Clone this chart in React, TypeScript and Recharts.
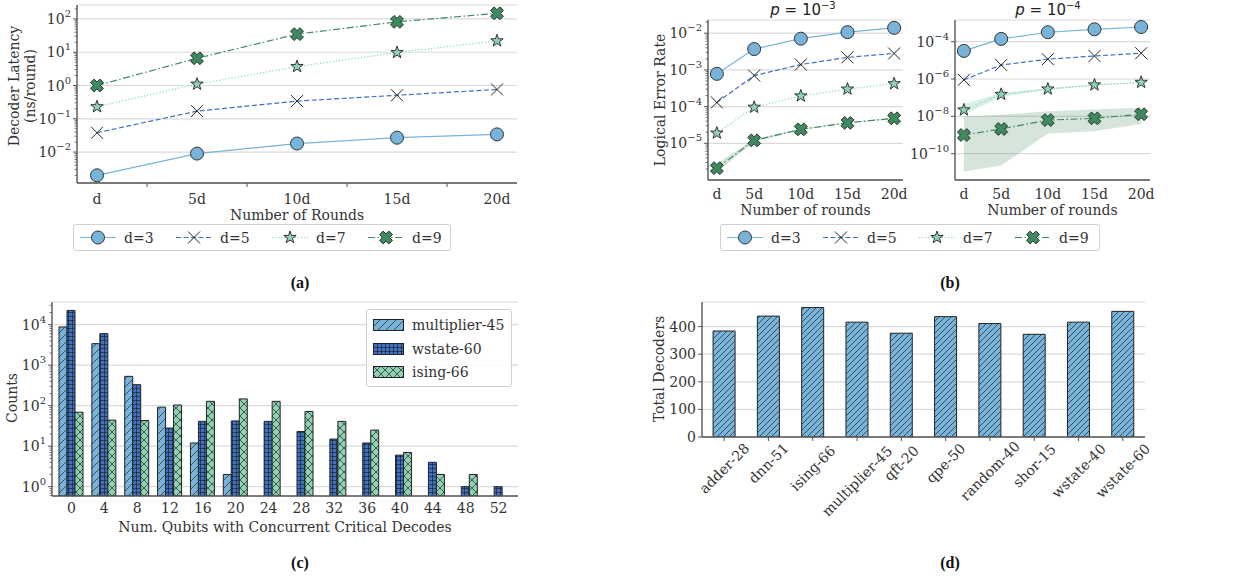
import React from 'react';
import { LineChart, Line, ComposedChart, Area, BarChart, Bar, XAxis, YAxis, CartesianGrid } from 'recharts';

// ---- data ----
const roundLabels = ['d', '5d', '10d', '15d', '20d'];
const roundMultiples = [1, 5, 10, 15, 20];

// (a) decoder latency (ns/round)
const latencyD3 = [0.002, 0.009, 0.018, 0.027, 0.034];
const latencyD5 = [0.038, 0.17, 0.34, 0.51, 0.76];
const latencyD7 = [0.23, 1.1, 3.7, 9.8, 22];
const latencyD9 = [1.0, 6.6, 35, 82, 148];

// (b) logical error rate, p = 1e-3
const lerHiD3 = [7.8e-4, 3.7e-3, 7.1e-3, 1.07e-2, 1.4e-2];
const lerHiD5 = [1.3e-4, 7.0e-4, 1.4e-3, 2.2e-3, 2.8e-3];
const lerHiD7 = [1.9e-5, 9.6e-5, 1.95e-4, 3.0e-4, 4.2e-4];
const lerHiD9 = [2.1e-6, 1.2e-5, 2.4e-5, 3.6e-5, 4.8e-5];
const lerHiD9Low = [1.6e-6, 1.1e-5, 2.3e-5, 3.5e-5, 4.6e-5];
const lerHiD9High = [2.8e-6, 1.3e-5, 2.5e-5, 3.8e-5, 5.0e-5];

// (b) logical error rate, p = 1e-4
const lerLoD3 = [3.2e-5, 1.4e-4, 3.2e-4, 4.6e-4, 6.1e-4];
const lerLoD5 = [9e-7, 5.6e-6, 1.15e-5, 1.7e-5, 2.4e-5];
const lerLoD7 = [2.2e-8, 1.5e-7, 2.9e-7, 4.8e-7, 6.6e-7];
const lerLoD9 = [1e-9, 2.1e-9, 6.3e-9, 7.8e-9, 1.3e-8];
const lerLoD7Low = [1.2e-8, 1.1e-7, 2.6e-7, 4.4e-7, 6.2e-7];
const lerLoD7High = [4.6e-8, 1.8e-7, 3.2e-7, 5.2e-7, 7.0e-7];
const lerLoD9Low = [1.1e-11, 2.3e-11, 1.2e-9, 1.6e-9, 3.9e-9];
const lerLoD9High = [9.5e-9, 1.2e-8, 1.9e-8, 2.3e-8, 2.9e-8];

// (c) histogram of concurrent critical decodes
const qubitBins = ['0', '4', '8', '12', '16', '20', '24', '28', '32', '36', '40', '44', '48', '52'];
const countsMultiplier = [8800, 3400, 530, 92, 12, 2, null, null, null, null, null, null, null, null];
const countsWstate = [22500, 6000, 330, 28, 41, 42, 41, 23, 15, 12, 6, 4, 1, 1];
const countsIsing = [69, 44, 43, 104, 128, 147, 128, 72, 41, 25, 7, 2, 2, null];

// (d) total decoders per benchmark
const benchmarks = ['adder-28', 'dnn-51', 'ising-66', 'multiplier-45', 'qft-20', 'qpe-50', 'random-40', 'shor-15', 'wstate-40', 'wstate-60'];
const totalDecoders = [384, 438, 469, 416, 376, 436, 411, 372, 416, 455];

// ---- style ----
const FONT = '"DejaVu Serif", serif';
const INK = '#333';
const GRID = '#dadada';
const AXIS = '#555';
const LB = '#78b4d9';
const DB = '#4070c0';
const LG = '#8fd3b5';
const DG = '#3e8a5f';

type Kind = 'circle' | 'x' | 'star' | 'bigx';

const series = [
  { key: 'd3', name: 'd=3', color: LB, dash: undefined as string | undefined, kind: 'circle' as Kind },
  { key: 'd5', name: 'd=5', color: DB, dash: '5 2.5', kind: 'x' as Kind },
  { key: 'd7', name: 'd=7', color: LG, dash: '1.2 2', kind: 'star' as Kind },
  { key: 'd9', name: 'd=9', color: DG, dash: '7 2.5 1.5 2.5', kind: 'bigx' as Kind },
];

const latencyData = roundLabels.map((r, i) => ({
  round: r, d3: latencyD3[i], d5: latencyD5[i], d7: latencyD7[i], d9: latencyD9[i],
}));

const lerHiData = roundMultiples.map((r, i) => ({
  r, d3: lerHiD3[i], d5: lerHiD5[i], d7: lerHiD7[i], d9: lerHiD9[i],
  band9: [lerHiD9Low[i], lerHiD9High[i]],
}));

const lerLoData = roundMultiples.map((r, i) => ({
  r, d3: lerLoD3[i], d5: lerLoD5[i], d7: lerLoD7[i], d9: lerLoD9[i],
  band7: [lerLoD7Low[i], lerLoD7High[i]],
  band9: [lerLoD9Low[i], lerLoD9High[i]],
}));

const countData = qubitBins.map((q, i) => ({
  q, mult: countsMultiplier[i], wstate: countsWstate[i], ising: countsIsing[i],
}));

const decoderData = benchmarks.map((name, i) => ({ name, total: totalDecoders[i] }));

// log-axis ranges (exponents) and plot heights, used for the axes and minor ticks
const A_LOG = [-2.93, 2.42];
const A_PLOT_H = 178;
const BL_LOG = [-6, -1.64];
const BR_LOG = [-11.41, -2.84];
const B_PLOT_H = 160;
const C_LOG = [-0.23, 4.56];
const C_PLOT_H = 194;

// ---- markers ----
const starPoints = (cx: number, cy: number, R: number, r: number) => {
  const pts: string[] = [];
  for (let i = 0; i < 10; i++) {
    const rad = i % 2 === 0 ? R : r;
    const a = -Math.PI / 2 + (i * Math.PI) / 5;
    pts.push(`${cx + rad * Math.cos(a)},${cy + rad * Math.sin(a)}`);
  }
  return pts.join(' ');
};

const bigXPoints = (cx: number, cy: number, L: number, a: number) => {
  const plus = [[a, L], [a, a], [L, a], [L, -a], [a, -a], [a, -L], [-a, -L], [-a, -a], [-L, -a], [-L, a], [-a, a], [-a, L]];
  return plus
    .map(([x, y]) => `${cx + (x - y) / Math.SQRT2},${cy + (x + y) / Math.SQRT2}`)
    .join(' ');
};

const Marker = ({ kind, cx, cy }: { kind: Kind; cx: number; cy: number }) => {
  if (cx == null || cy == null || isNaN(cx) || isNaN(cy)) return null;
  if (kind === 'circle') return <circle cx={cx} cy={cy} r={6.5} fill={LB} stroke="#333" strokeWidth={1} />;
  if (kind === 'x')
    return (
      <g stroke="#222" strokeWidth={1}>
        <line x1={cx - 6} y1={cy - 6} x2={cx + 6} y2={cy + 6} />
        <line x1={cx - 6} y1={cy + 6} x2={cx + 6} y2={cy - 6} />
      </g>
    );
  if (kind === 'star') return <polygon points={starPoints(cx, cy, 6.5, 2.6)} fill={LG} stroke="#222" strokeWidth={0.9} />;
  return <polygon points={bigXPoints(cx, cy, 6.6, 2.5)} fill={DG} stroke="#222" strokeWidth={0.9} />;
};

const dotOf = (kind: Kind) => (p: any) => <Marker key={`${kind}-${p.index}`} kind={kind} cx={p.cx} cy={p.cy} />;

// ---- ticks & labels ----
const sup = (e: number) => (e < 0 ? '\u2212' + Math.abs(e) : String(e));

// major tick label 10^k, plus matplotlib-style minor ticks (2..9 x 10^k)
const makePowTick = (logRange: number[], plotH: number, minor: boolean) => {
  const decadePx = plotH / (logRange[1] - logRange[0]);
  return (props: any) => {
    const { x, y, payload, index } = props;
    const e = Math.round(Math.log10(payload.value));
    const axisX = x + 6;
    const minors: number[] = [];
    if (minor) {
      const addDecade = (k: number) => {
        for (let m = 2; m <= 9; m++) {
          const lg = k + Math.log10(m);
          if (lg > logRange[0] && lg < logRange[1]) minors.push(y - (lg - e) * decadePx);
        }
      };
      addDecade(e);
      if (index === 0) for (let k = e - 1; k >= Math.floor(logRange[0]); k--) addDecade(k);
    }
    return (
      <g>
        {minors.map((my, i) => (
          <line key={i} x1={axisX - 2.5} x2={axisX} y1={my} y2={my} stroke={AXIS} strokeWidth={0.8} />
        ))}
        <text x={x} y={y} textAnchor="end" dominantBaseline="central" fill={INK} fontFamily={FONT} fontSize={14}>
          <tspan>10</tspan>
          <tspan dy={-6} fontSize={10}>{sup(e)}</tspan>
        </text>
      </g>
    );
  };
};

const PlainTick = (props: any) => {
  const { x, y, payload } = props;
  return (
    <text x={x} y={y} dy="0.71em" textAnchor="middle" fill={INK} fontFamily={FONT} fontSize={14}>
      {payload.value}
    </text>
  );
};

const roundTickFmt = (v: number) => roundLabels[roundMultiples.indexOf(v)] ?? '';

const MultipleTick = (props: any) => {
  const { x, y, payload } = props;
  return (
    <text x={x} y={y} dy="0.71em" textAnchor="middle" fill={INK} fontFamily={FONT} fontSize={14}>
      {roundTickFmt(payload.value)}
    </text>
  );
};

const NumTick = (props: any) => {
  const { x, y, payload } = props;
  return (
    <text x={x} y={y} textAnchor="end" dominantBaseline="central" fill={INK} fontFamily={FONT} fontSize={14}>
      {payload.value}
    </text>
  );
};

// (a) has tick marks half way between the round labels
const A_HALF_STEP = (440 - 40) / (roundLabels.length - 1) / 2;
const RoundTick = (props: any) => {
  const { x, y, payload, index } = props;
  const axisY = y - 11;
  return (
    <g>
      <text x={x} y={y} dy="0.71em" textAnchor="middle" fill={INK} fontFamily={FONT} fontSize={14}>
        {payload.value}
      </text>
      {index < roundLabels.length - 1 && (
        <line x1={x + A_HALF_STEP} x2={x + A_HALF_STEP} y1={axisY} y2={axisY + 4} stroke={AXIS} strokeWidth={1} />
      )}
    </g>
  );
};

const RotTick = (props: any) => {
  const { x, y, payload } = props;
  const w = String(payload.value).length * 7.2;
  const cy = y + (w + 14) * 0.3536;
  return (
    <text
      x={x}
      y={cy}
      textAnchor="middle"
      dominantBaseline="central"
      transform={`rotate(-45 ${x} ${cy})`}
      fill={INK}
      fontFamily={FONT}
      fontSize={14}
    >
      {payload.value}
    </text>
  );
};

const xLabel = (text: string, dy: number) => (props: any) => {
  const vb = props.viewBox || {};
  return (
    <text x={vb.x + vb.width / 2} y={vb.y + dy} textAnchor="middle" dominantBaseline="central" fill={INK} fontFamily={FONT} fontSize={14}>
      {text}
    </text>
  );
};

const yLabel = (lines: { text: string; x: number }[], y: number) => () => (
  <g>
    {lines.map((l) => (
      <text
        key={l.text}
        x={l.x}
        y={y}
        textAnchor="middle"
        dominantBaseline="central"
        transform={`rotate(-90 ${l.x} ${y})`}
        fill={INK}
        fontFamily={FONT}
        fontSize={14}
      >
        {l.text}
      </text>
    ))}
  </g>
);

const axisLine = { stroke: AXIS, strokeWidth: 1.4 };
const tickLine = { stroke: AXIS, strokeWidth: 1 };

// ---- legends ----
const LineLegend = ({ left, top, width }: { left: number; top: number; width: number }) => (
  <div
    style={{
      position: 'absolute', left, top, width, height: 27, boxSizing: 'border-box',
      border: '1px solid #d0d0d0', borderRadius: 3, background: '#fff',
    }}
  >
    {series.map((s, i) => (
      <div key={s.key} style={{ position: 'absolute', left: 6 + i * 96, top: 0, height: 25, display: 'flex', alignItems: 'center' }}>
        <svg width={36} height={25} style={{ display: 'block' }}>
          <line x1={0} x2={36} y1={12.5} y2={12.5} stroke={s.color} strokeWidth={1.2} strokeDasharray={s.dash} />
          <Marker kind={s.kind} cx={18} cy={12.5} />
        </svg>
        <span style={{ marginLeft: 8, fontFamily: FONT, fontSize: 14, color: INK }}>{s.name}</span>
      </div>
    ))}
  </div>
);

const barSeries = [
  { key: 'mult', name: 'multiplier-45', fill: 'url(#hatchMult)' },
  { key: 'wstate', name: 'wstate-60', fill: 'url(#hatchGrid)' },
  { key: 'ising', name: 'ising-66', fill: 'url(#hatchCross)' },
];

const BarLegend = () => (
  <div
    style={{
      position: 'absolute', left: 366, top: 309, width: 146, height: 78, boxSizing: 'border-box',
      border: '1px solid #d0d0d0', borderRadius: 3, background: 'rgba(255,255,255,0.85)',
    }}
  >
    {barSeries.map((b, i) => (
      <div key={b.key} style={{ position: 'absolute', left: 6, top: 5 + i * 23.5, height: 20, display: 'flex', alignItems: 'center' }}>
        <svg width={31} height={12} style={{ display: 'block' }}>
          <rect x={0.5} y={0.5} width={30} height={11} fill={b.fill} stroke="#222" strokeWidth={1} />
        </svg>
        <span style={{ marginLeft: 8, fontFamily: FONT, fontSize: 14, color: INK }}>{b.name}</span>
      </div>
    ))}
  </div>
);

const Caption = ({ x, y, text }: { x: number; y: number; text: string }) => (
  <div
    style={{
      position: 'absolute', left: x - 30, top: y - 10, width: 60, textAlign: 'center',
      fontFamily: '"Liberation Serif", serif', fontWeight: 'bold', fontSize: 16, color: '#111', lineHeight: '20px',
    }}
  >
    {text}
  </div>
);

const Title = ({ x, exp }: { x: number; exp: number }) => (
  <div
    style={{
      position: 'absolute', left: x - 60, top: 0, width: 120, textAlign: 'center',
      fontFamily: '"DejaVu Sans", sans-serif', fontSize: 15, color: '#222', lineHeight: '20px',
    }}
  >
    <i>p</i> = 10<span style={{ fontSize: 10, position: 'relative', top: -6 }}>{sup(exp)}</span>
  </div>
);

// ---- panels ----
const renderLines = () =>
  series.map((s) => (
    <Line
      key={s.key}
      dataKey={s.key}
      stroke={s.color}
      strokeWidth={1.2}
      strokeDasharray={s.dash}
      dot={dotOf(s.kind)}
      activeDot={false}
      isAnimationActive={false}
    />
  ));

const LatencyChart = () => (
  <LineChart width={530} height={222} data={latencyData} margin={{ top: 5, right: 13, bottom: 0, left: 0 }}>
    <CartesianGrid vertical={false} stroke={GRID} strokeWidth={1.2} />
    <XAxis
      dataKey="round"
      padding={{ left: 20, right: 20 }}
      height={39}
      interval={0}
      axisLine={axisLine}
      tickLine={false}
      tickSize={4}
      tickMargin={7}
      tick={RoundTick}
      label={xLabel('Number of Rounds', 32)}
    />
    <YAxis
      scale="log"
      domain={[Math.pow(10, A_LOG[0]), Math.pow(10, A_LOG[1])]}
      allowDataOverflow
      ticks={[1e-2, 1e-1, 1, 10, 100]}
      width={77}
      axisLine={axisLine}
      tickLine={tickLine}
      tickSize={4}
      tickMargin={2}
      tick={makePowTick(A_LOG, A_PLOT_H, true)}
      label={yLabel([{ text: 'Decoder Latency', x: 14 }, { text: '(ns/round)', x: 30 }], 86)}
    />
    {renderLines()}
  </LineChart>
);

const LerChart = ({ data, logRange, yTicks, yAxisWidth, width, withYLabel, minor, bands }: any) => (
  <ComposedChart width={width} height={220} data={data} margin={{ top: 20, right: 5, bottom: 0, left: 0 }}>
    <CartesianGrid vertical={false} stroke={GRID} strokeWidth={1.2} />
    <XAxis
      dataKey="r"
      type="number"
      domain={[0.05, 20.95]}
      allowDataOverflow
      ticks={roundMultiples}
      height={40}
      axisLine={axisLine}
      tickLine={false}
      tickSize={4}
      tickMargin={5}
      tick={MultipleTick}
      label={xLabel('Number of rounds', 30)}
    />
    <YAxis
      scale="log"
      domain={[Math.pow(10, logRange[0]), Math.pow(10, logRange[1])]}
      allowDataOverflow
      ticks={yTicks}
      width={yAxisWidth}
      axisLine={axisLine}
      tickLine={tickLine}
      tickSize={4}
      tickMargin={2}
      tick={makePowTick(logRange, B_PLOT_H, minor)}
      label={withYLabel ? yLabel([{ text: 'Logical Error Rate', x: 20 }], 100) : undefined}
    />
    {bands.map((b: any) => (
      <Area
        key={b.key}
        dataKey={b.key}
        stroke="none"
        fill={b.color}
        fillOpacity={b.opacity}
        dot={false}
        activeDot={false}
        isAnimationActive={false}
      />
    ))}
    {renderLines()}
  </ComposedChart>
);

const CountsChart = () => (
  <BarChart
    width={530}
    height={260}
    data={countData}
    margin={{ top: 22, right: 12, bottom: 0, left: 0 }}
    barCategoryGap={4}
    barGap={0}
  >
    <CartesianGrid vertical={false} stroke={GRID} strokeWidth={1.2} />
    <XAxis
      dataKey="q"
      padding={{ left: 3, right: 3 }}
      height={44}
      interval={0}
      axisLine={axisLine}
      tickLine={false}
      tickSize={4}
      tickMargin={3}
      tick={PlainTick}
      label={xLabel('Num. Qubits with Concurrent Critical Decodes', 31)}
    />
    <YAxis
      scale="log"
      domain={[Math.pow(10, C_LOG[0]), Math.pow(10, C_LOG[1])]}
      allowDataOverflow
      ticks={[1, 10, 100, 1000, 10000]}
      width={52}
      axisLine={axisLine}
      tickLine={tickLine}
      tickSize={4}
      tickMargin={2}
      tick={makePowTick(C_LOG, C_PLOT_H, true)}
      label={yLabel([{ text: 'Counts', x: 12 }], 118)}
    />
    {barSeries.map((b) => (
      <Bar key={b.key} dataKey={b.key} fill={b.fill} stroke="#222" strokeWidth={1} isAnimationActive={false} />
    ))}
  </BarChart>
);

const DecodersChart = () => (
  <BarChart width={520} height={260} data={decoderData} margin={{ top: 22, right: 15, bottom: 0, left: 0 }} barCategoryGap="25%">
    <CartesianGrid vertical={false} stroke={GRID} strokeWidth={1.2} />
    <XAxis
      dataKey="name"
      height={103}
      interval={0}
      axisLine={axisLine}
      tickLine={tickLine}
      tickSize={4}
      tickMargin={2}
      tick={RotTick}
    />
    <YAxis
      domain={[0, 489]}
      allowDataOverflow
      ticks={[0, 100, 200, 300, 400]}
      width={62}
      axisLine={axisLine}
      tickLine={tickLine}
      tickSize={4}
      tickMargin={2}
      tick={NumTick}
      label={yLabel([{ text: 'Total Decoders', x: 19 }], 89)}
    />
    <Bar dataKey="total" fill="url(#hatchDense)" stroke="#222" strokeWidth={1} isAnimationActive={false} />
  </BarChart>
);

export default function App() {
  return (
    <div style={{ position: 'absolute', left: 0, top: 0, width: 1256, height: 582, background: '#fff', overflow: 'hidden' }}>
      <svg width={0} height={0} style={{ position: 'absolute' }}>
        <defs>
          <pattern id="hatchMult" width={8} height={8} patternUnits="userSpaceOnUse">
            <rect width={8} height={8} fill={LB} />
            <path d="M-2,2 L2,-2 M0,8 L8,0 M6,10 L10,6" stroke="#222" strokeWidth={0.7} />
          </pattern>
          <pattern id="hatchDense" width={6} height={6} patternUnits="userSpaceOnUse">
            <rect width={6} height={6} fill={LB} />
            <path d="M-1.5,1.5 L1.5,-1.5 M0,6 L6,0 M4.5,7.5 L7.5,4.5" stroke="#222" strokeWidth={0.7} />
          </pattern>
          <pattern id="hatchGrid" width={4} height={4} patternUnits="userSpaceOnUse">
            <rect width={4} height={4} fill={DB} />
            <path d="M0,0.3 H4 M0.3,0 V4" stroke="#111" strokeWidth={0.7} />
          </pattern>
          <pattern id="hatchCross" width={8} height={8} patternUnits="userSpaceOnUse">
            <rect width={8} height={8} fill={LG} />
            <path d="M0,0 L8,8 M8,0 L0,8" stroke="#222" strokeWidth={0.7} />
          </pattern>
        </defs>
      </svg>

      <div style={{ position: 'absolute', left: 0, top: 0 }}>
        <LatencyChart />
      </div>
      <LineLegend left={73} top={224} width={378} />
      <Caption x={300} y={283} text="(a)" />

      <div style={{ position: 'absolute', left: 640, top: 0 }}>
        <LerChart
          data={lerHiData}
          logRange={BL_LOG}
          yTicks={[1e-5, 1e-4, 1e-3, 1e-2]}
          yAxisWidth={68}
          width={268}
          withYLabel
          minor
          bands={[{ key: 'band9', color: DG, opacity: 0.22 }]}
        />
      </div>
      <div style={{ position: 'absolute', left: 908, top: 0 }}>
        <LerChart
          data={lerLoData}
          logRange={BR_LOG}
          yTicks={[1e-10, 1e-8, 1e-6, 1e-4]}
          yAxisWidth={47}
          width={247}
          withYLabel={false}
          minor={false}
          bands={[
            { key: 'band9', color: DG, opacity: 0.22 },
            { key: 'band7', color: LG, opacity: 0.35 },
          ]}
        />
      </div>
      <Title x={803} exp={-3} />
      <Title x={1048} exp={-4} />
      <LineLegend left={720} top={224} width={380} />
      <Caption x={950} y={283} text="(b)" />

      <div style={{ position: 'absolute', left: 0, top: 280 }}>
        <CountsChart />
      </div>
      <BarLegend />
      <Caption x={300} y={563} text="(c)" />

      <div style={{ position: 'absolute', left: 640, top: 280 }}>
        <DecodersChart />
      </div>
      <Caption x={950} y={563} text="(d)" />
    </div>
  );
}
